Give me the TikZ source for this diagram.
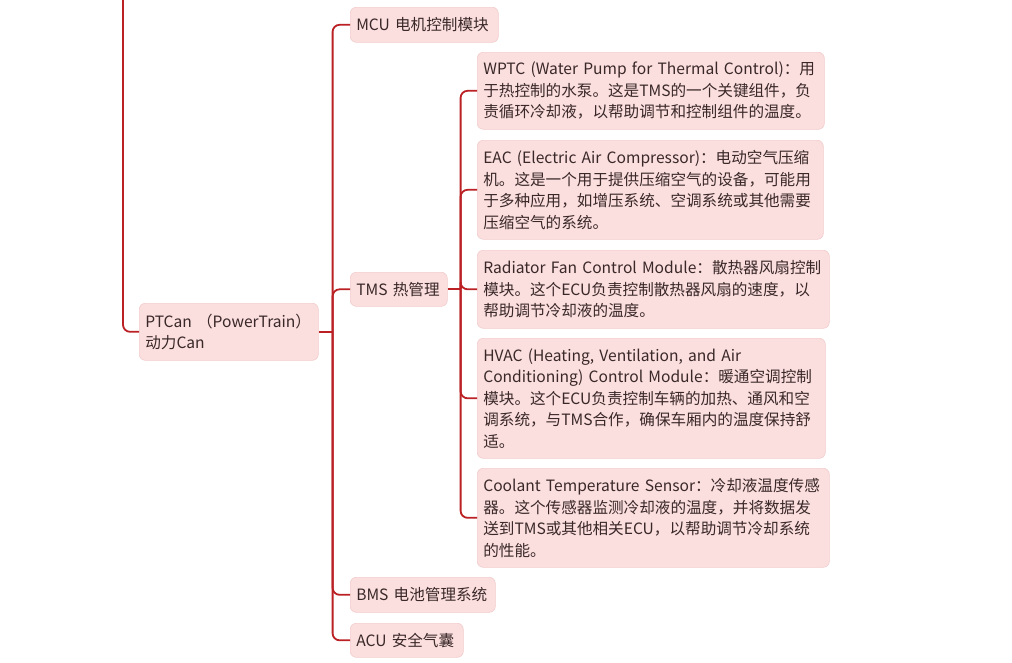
\documentclass[tikz,border=0pt]{standalone}
\usepackage{fontspec}
\setmainfont{Noto Sans CJK SC}
\definecolor{linec}{RGB}{186,32,36}
\definecolor{boxc}{RGB}{251,222,222}
\definecolor{boxd}{RGB}{243,205,205}
\definecolor{txtc}{RGB}{58,40,40}
\tikzset{
  conn/.style={draw=linec, line width=1.8pt, rounded corners=7pt},
  topic/.style={draw=boxd, line width=0.6pt, fill=boxc, rounded corners=6pt, anchor=north west,
    inner xsep=6pt, inner ysep=0pt, align=left, text=txtc,
    font=\fontsize{15.6}{21.5}\selectfont},
}
\newcommand{\Ln}[1]{\mbox{#1}}
\newcommand{\bx}[7]{% name, x0, y0, x1, y1, text
  \pgfmathsetmacro{\bh}{#5-#3}\pgfmathsetmacro{\tw}{#4-#2-12}
  \node[topic, text width=\tw pt, minimum height=\bh pt] (#1) at (#2,#3) {#6};}
\begin{document}
\begin{tikzpicture}[x=1pt,y=-1pt]
\useasboundingbox[fill=white] (0,0) rectangle (1012,662);
\bx{ptcan}{139}{303}{318}{360}{\Ln{PTCan （PowerTrain）}\\\Ln{动力Can}}{}
\bx{mcu}{350}{7}{498}{42}{\Ln{MCU 电机控制模块}}{}
\bx{tms}{350}{272}{447}{306}{\Ln{TMS 热管理}}{}
\bx{bms}{350}{577}{495}{612}{\Ln{BMS 电池管理系统}}{}
\bx{acu}{350}{623}{463}{657}{\Ln{ACU 安全气囊}}{}
\bx{wptc}{477}{52}{824}{129}{\Ln{WPTC (Water Pump for Thermal Control)：用}\\\Ln{于热控制的水泵。这是TMS的一个关键组件，负}\\\Ln{责循环冷却液，以帮助调节和控制组件的温度。}}{}
\bx{eac}{477}{140}{823}{239}{\Ln{EAC (Electric Air Compressor)：电动空气压缩}\\\Ln{机。这是一个用于提供压缩空气的设备，可能用}\\\Ln{于多种应用，如增压系统、空调系统或其他需要}\\\Ln{压缩空气的系统。}}{}
\bx{rad}{477}{250}{829}{328}{\Ln{Radiator Fan Control Module：散热器风扇控制}\\\Ln{模块。这个ECU负责控制散热器风扇的速度，以}\\\Ln{帮助调节冷却液的温度。}}{}
\bx{hvac}{477}{338}{825}{458}{\Ln{HVAC (Heating, Ventilation, and Air}\\\Ln{Conditioning) Control Module：暖通空调控制}\\\Ln{模块。这个ECU负责控制车辆的加热、通风和空}\\\Ln{调系统，与TMS合作，确保车厢内的温度保持舒}\\\Ln{适。}}{}
\bx{cts}{477}{468}{829}{567}{\Ln{Coolant Temperature Sensor：冷却液温度传感}\\\Ln{器。这个传感器监测冷却液的温度，并将数据发}\\\Ln{送到TMS或其他相关ECU，以帮助调节冷却系统}\\\Ln{的性能。}}{}
\coordinate (top) at (123,-4);
\draw[conn] (top) |- (ptcan.west);
\draw[conn] (ptcan.east) -- ++(14,0) coordinate (j1);
\foreach \c in {mcu,tms,bms,acu}
  \draw[conn] (j1) |- (\c.west);
\draw[conn] (tms.east) -- ++(13,0) coordinate (j2);
\foreach \c in {wptc,eac,rad,hvac,cts}
  \draw[conn] (j2) |- (\c.west);
\end{tikzpicture}
\end{document}
